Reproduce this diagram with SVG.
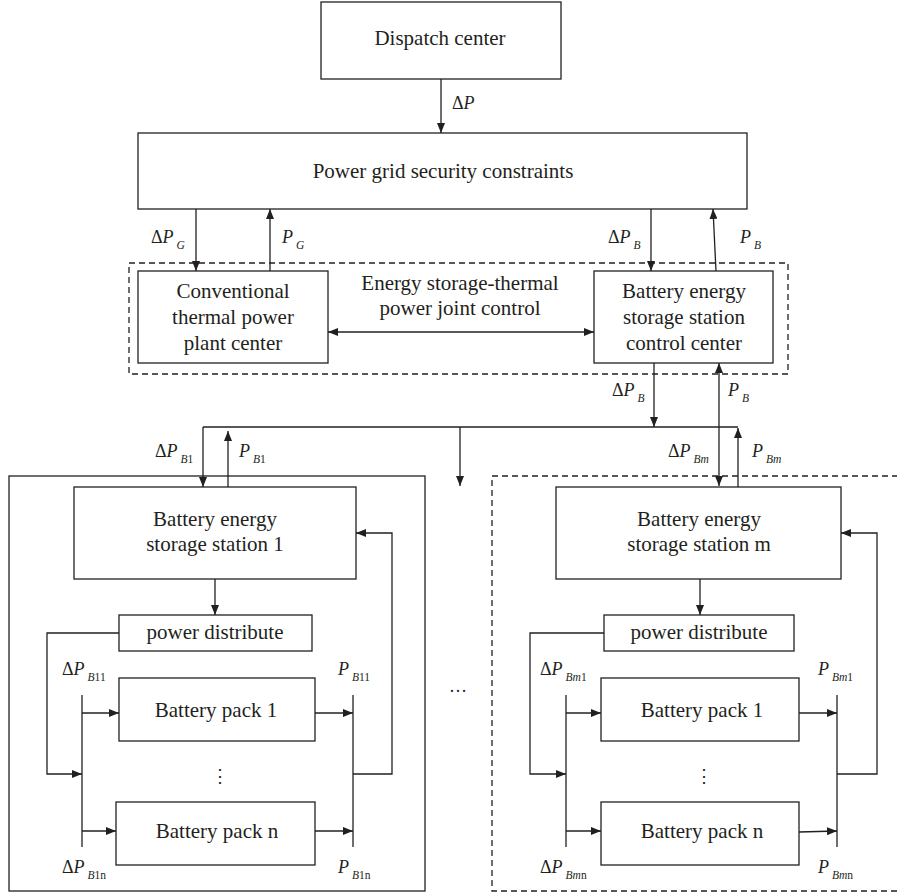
<svg xmlns="http://www.w3.org/2000/svg" width="897" height="896" viewBox="0 0 897 896">
<defs>
<marker id="a" viewBox="0 0 10 8" refX="10" refY="4" markerWidth="10" markerHeight="8" markerUnits="userSpaceOnUse" orient="auto-start-reverse"><path d="M0,0L10,4L0,8z" fill="#231f20"/></marker>
</defs>
<style>
.box{fill:#fff;stroke:#231f20;stroke-width:1.3}
.dash{fill:none;stroke:#231f20;stroke-width:1.3;stroke-dasharray:6,4}
.c path{fill:none;stroke:#231f20;stroke-width:1.3}
.ar{marker-end:url(#a)}
.da{marker-start:url(#a);marker-end:url(#a)}
text{font-family:"Liberation Serif","Times New Roman",serif;font-size:21px;fill:#231f20}
.m{text-anchor:middle}
#labels text{font-size:18px}
.i{font-style:italic}
#labels .s{font-size:11.5px}
</style>
<rect width="897" height="896" fill="#fff"/>
<rect class="dash" x="129" y="263" width="659" height="111"/>
<rect class="box" x="9" y="476" width="416" height="415"/>
<rect class="dash" x="492" y="476" width="420" height="415"/>
<g id="dispatch"><rect class="box" x="321" y="2" width="240" height="77"/><text class="m" x="440" y="45">Dispatch center</text></g>
<g id="grid"><rect class="box" x="138" y="133" width="609" height="76"/><text class="m" x="443" y="178">Power grid security constraints</text></g>
<g id="thermal"><rect class="box" x="138" y="271" width="190" height="92"/><text class="m" x="233" y="298">Conventional</text><text class="m" x="233" y="324">thermal power</text><text class="m" x="233" y="350">plant center</text></g>
<g id="bcc"><rect class="box" x="594" y="271" width="179" height="92"/><text class="m" x="684" y="298">Battery energy</text><text class="m" x="684" y="324">storage station</text><text class="m" x="684" y="350">control center</text></g>
<text class="m" x="460" y="290">Energy storage-thermal</text>
<text class="m" x="460" y="315">power joint control</text>
<g id="st1"><rect class="box" x="74" y="487" width="282" height="92"/><text class="m" x="215" y="526">Battery energy</text><text class="m" x="215" y="551">storage station 1</text></g>
<g id="pd1"><rect class="box" x="119" y="615" width="193" height="36"/><text class="m" x="215" y="639">power distribute</text></g>
<g id="p11"><rect class="box" x="119" y="678" width="196" height="63"/><text class="m" x="216" y="717">Battery pack 1</text></g>
<g id="p1n"><rect class="box" x="116" y="802" width="199" height="63"/><text class="m" x="217" y="838">Battery pack n</text></g>
<g id="stm"><rect class="box" x="556" y="487" width="285" height="92"/><text class="m" x="699" y="526">Battery energy</text><text class="m" x="699" y="551">storage station m</text></g>
<g id="pdm"><rect class="box" x="604" y="615" width="190" height="36"/><text class="m" x="699" y="639">power distribute</text></g>
<g id="pm1"><rect class="box" x="601" y="678" width="198" height="63"/><text class="m" x="702" y="717">Battery pack 1</text></g>
<g id="pmn"><rect class="box" x="601" y="802" width="198" height="63"/><text class="m" x="702" y="838">Battery pack n</text></g>
<g class="c" id="connectors">
<path class="ar" d="M441,79V133"/>
<path class="ar" d="M196,209V271"/>
<path class="ar" d="M270,271V209"/>
<path class="ar" d="M651,209V271"/>
<path class="ar" d="M716,271L713,209"/>
<path class="da" d="M328,332H594"/>
<path class="ar" d="M654,363V427"/>
<path d="M203,427H738"/>
<path class="ar" d="M203,427V487"/>
<path class="ar" d="M460,427V486"/>
<path class="ar" d="M228,487V431"/>
<path class="da" d="M719,486V363"/>
<path class="ar" d="M738,487V428"/>
<path class="ar" d="M215,579V615"/>
<path class="ar" d="M119,633H47V774H82"/>
<path d="M82,695V847"/>
<path class="ar" d="M82,713H119"/>
<path class="ar" d="M82,831H116"/>
<path class="ar" d="M315,713H353"/>
<path class="ar" d="M315,831H353"/>
<path d="M353,695V847"/>
<path class="ar" d="M353,774H392V533H356"/>
<path class="ar" d="M700,579V615"/>
<path class="ar" d="M604,633H530V774H566"/>
<path d="M566,695V847"/>
<path class="ar" d="M566,713H601"/>
<path class="ar" d="M566,831H601"/>
<path class="ar" d="M799,713H837"/>
<path class="ar" d="M799,832L837,831"/>
<path d="M837,695V847"/>
<path class="ar" d="M837,774H877V533H841"/>
</g>
<g id="labels">
<text x="452" y="109">Δ<tspan class="i">P</tspan></text>
<text x="151" y="243">Δ<tspan class="i">P</tspan><tspan class="s i" dx="3" dy="6">G</tspan></text>
<text x="282" y="243"><tspan class="i">P</tspan><tspan class="s i" dx="3" dy="6">G</tspan></text>
<text x="608" y="243">Δ<tspan class="i">P</tspan><tspan class="s i" dx="3" dy="6">B</tspan></text>
<text x="740" y="243"><tspan class="i">P</tspan><tspan class="s i" dx="3" dy="6">B</tspan></text>
<text x="612" y="396">Δ<tspan class="i">P</tspan><tspan class="s i" dx="3" dy="6">B</tspan></text>
<text x="728" y="396"><tspan class="i">P</tspan><tspan class="s i" dx="3" dy="6">B</tspan></text>
<text x="155" y="457">Δ<tspan class="i">P</tspan><tspan class="s i" dx="3" dy="6">B</tspan><tspan class="s">1</tspan></text>
<text x="239" y="457"><tspan class="i">P</tspan><tspan class="s i" dx="3" dy="6">B</tspan><tspan class="s">1</tspan></text>
<text x="668" y="457">Δ<tspan class="i">P</tspan><tspan class="s i" dx="3" dy="6">Bm</tspan></text>
<text x="752" y="457"><tspan class="i">P</tspan><tspan class="s i" dx="3" dy="6">Bm</tspan></text>
<text x="62" y="675">Δ<tspan class="i">P</tspan><tspan class="s i" dx="3" dy="6">B</tspan><tspan class="s">11</tspan></text>
<text x="338" y="675"><tspan class="i">P</tspan><tspan class="s i" dx="3" dy="6">B</tspan><tspan class="s">11</tspan></text>
<text x="62" y="873">Δ<tspan class="i">P</tspan><tspan class="s i" dx="3" dy="6">B</tspan><tspan class="s">1n</tspan></text>
<text x="338" y="873"><tspan class="i">P</tspan><tspan class="s i" dx="3" dy="6">B</tspan><tspan class="s">1n</tspan></text>
<text x="540" y="675">Δ<tspan class="i">P</tspan><tspan class="s i" dx="3" dy="6">Bm</tspan><tspan class="s">1</tspan></text>
<text x="818" y="675"><tspan class="i">P</tspan><tspan class="s i" dx="3" dy="6">Bm</tspan><tspan class="s">1</tspan></text>
<text x="540" y="873">Δ<tspan class="i">P</tspan><tspan class="s i" dx="3" dy="6">Bm</tspan><tspan class="s">n</tspan></text>
<text x="818" y="873"><tspan class="i">P</tspan><tspan class="s i" dx="3" dy="6">Bm</tspan><tspan class="s">n</tspan></text>
<text class="m" x="220" y="782">⋮</text>
<text class="m" x="704" y="782">⋮</text>
<text class="m" x="458" y="692">…</text>
</g>
</svg>
